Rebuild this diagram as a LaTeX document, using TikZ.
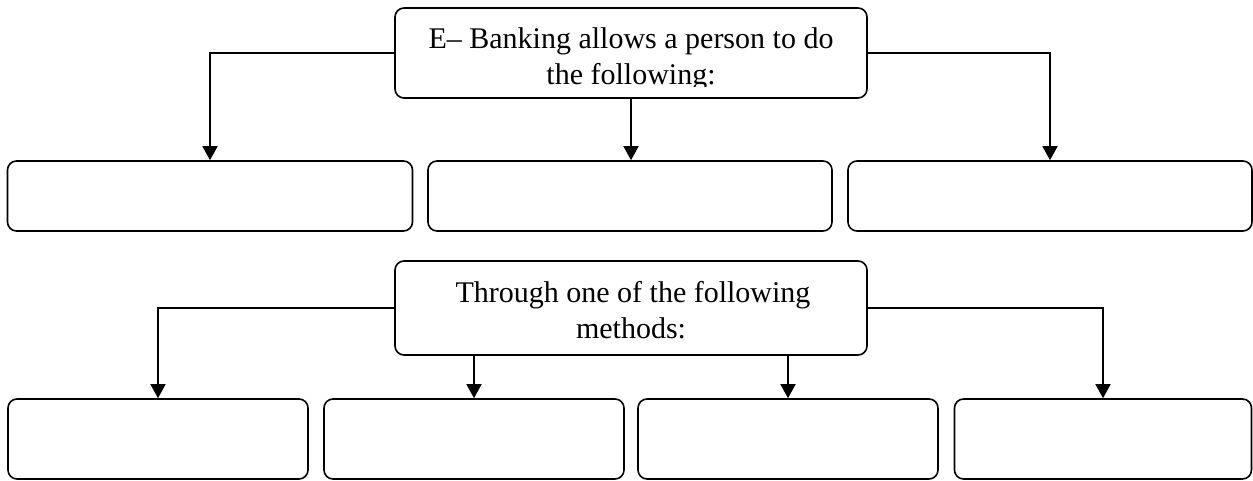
\documentclass[tikz,border=0pt]{standalone}
\usepackage{fontspec}
\setmainfont{Liberation Serif}
\usetikzlibrary{arrows.meta}
\tikzset{
  box/.style={draw, line width=1.6pt, rounded corners=9pt, inner sep=0pt},
  conn/.style={line width=1.6pt, -{Triangle[width=15pt,length=14pt]}},
  lbl/.style={anchor=base, inner sep=0pt, font=\fontsize{30pt}{36pt}\selectfont}
}
\begin{document}
\begin{tikzpicture}[x=1pt,y=-1pt]
\useasboundingbox (0,0) rectangle (1253,481);
% top level
\node[box, minimum width=472pt, minimum height=90pt] (top) at (631,53) {};
\begin{scope}
  \clip (396,9) rectangle (867,87);
  \node[lbl] (topA) at (631,49) {E– Banking allows a person to do};
  \node[lbl] (topB) at (631,85) {the following:};
\end{scope}
\node[box, minimum width=405pt, minimum height=70pt] (r1a) at (210,196) {};
\node[box, minimum width=404pt, minimum height=70pt] (r1b) at (630,196) {};
\node[box, minimum width=404pt, minimum height=70pt] (r1c) at (1050,196) {};
\draw[conn] (top.west) -| (r1a.north);
\draw[conn] (top.south) -- (top.south |- r1b.north);
\draw[conn] (top.east) -| (r1c.north);
% second level
\node[box, minimum width=472pt, minimum height=94pt] (mid) at (631,308) {};
\node[lbl] (midA) at (633,302) {Through one of the following};
\node[lbl] (midB) at (631,338) {methods:};
\node[box, minimum width=300pt, minimum height=80pt] (r2a) at (158,439) {};
\node[box, minimum width=300pt, minimum height=80pt] (r2b) at (474,439) {};
\node[box, minimum width=300pt, minimum height=80pt] (r2c) at (788,439) {};
\node[box, minimum width=297pt, minimum height=80pt] (r2d) at (1103,439) {};
\draw[conn] (mid.west) -| (r2a.north);
\draw[conn] (r2b.north |- mid.south) -- (r2b.north);
\draw[conn] (r2c.north |- mid.south) -- (r2c.north);
\draw[conn] (mid.east) -| (r2d.north);
\end{tikzpicture}
\end{document}
